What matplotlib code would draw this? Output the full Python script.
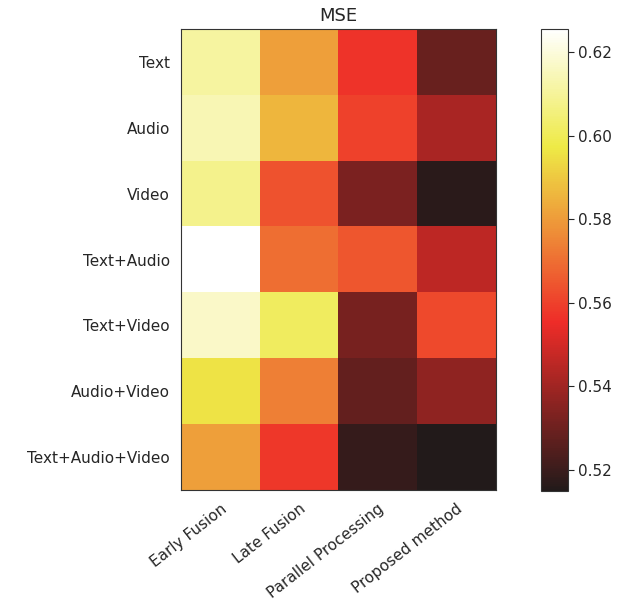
import numpy as np
import matplotlib
matplotlib.use("Agg")
from matplotlib import pyplot as plt
from matplotlib.colors import LinearSegmentedColormap

methods = ['Early Fusion', 'Late Fusion', 'Parallel Processing', 'Proposed method']
modalities = ['Text', 'Audio', 'Video', 'Text+Audio', 'Text+Video',
              'Audio+Video', 'Text+Audio+Video']

# MSE per modality (rows) and method (columns)
mse_text = [0.611, 0.581, 0.557, 0.529]
mse_audio = [0.614, 0.586, 0.560, 0.542]
mse_video = [0.608, 0.564, 0.533, 0.517]
mse_text_audio = [0.6255, 0.570, 0.565, 0.546]
mse_text_video = [0.617, 0.601, 0.532, 0.562]
mse_audio_video = [0.596, 0.574, 0.528, 0.537]
mse_all = [0.581, 0.558, 0.519, 0.515]

data = np.array([mse_text, mse_audio, mse_video, mse_text_audio,
                 mse_text_video, mse_audio_video, mse_all])

# a slightly muted 'hot' colormap
hot_soft = LinearSegmentedColormap.from_list('hot_soft', [
  (0.0, '#221a1a'),
  (0.365, '#ee2c28'),
  (0.746, '#eeea46'),
  (1.0, '#ffffff'),
])

txt = '#262626'
plt.rcParams['text.color'] = txt
plt.rcParams['xtick.color'] = txt
plt.rcParams['ytick.color'] = txt

fig = plt.figure(figsize=(6.34, 6.01), dpi=100)
ax = fig.add_axes([0.2855, 0.1847, 0.4965, 0.767])
cax = fig.add_axes([0.853, 0.1830, 0.0426, 0.7687])

im = ax.imshow(data, cmap=hot_soft, aspect='auto',
               vmin=data.min(), vmax=data.max())

ax.set_xticks(range(len(methods)))
ax.set_xticklabels(methods, rotation=38, ha='right', rotation_mode='anchor', fontsize=11)
ax.set_yticks(range(len(modalities)))
ax.set_yticklabels(modalities, fontsize=11)
ax.tick_params(length=0, pad=8)
for s in ax.spines.values():
  s.set_color('#333333')
ax.set_title('MSE', fontsize=13)

cb = fig.colorbar(im, cax=cax)
cb.set_ticks([0.52, 0.54, 0.56, 0.58, 0.60, 0.62])
cb.ax.tick_params(labelsize=11, length=4)
cb.outline.set_edgecolor('#333333')

fig.savefig('out.png', dpi=100)
